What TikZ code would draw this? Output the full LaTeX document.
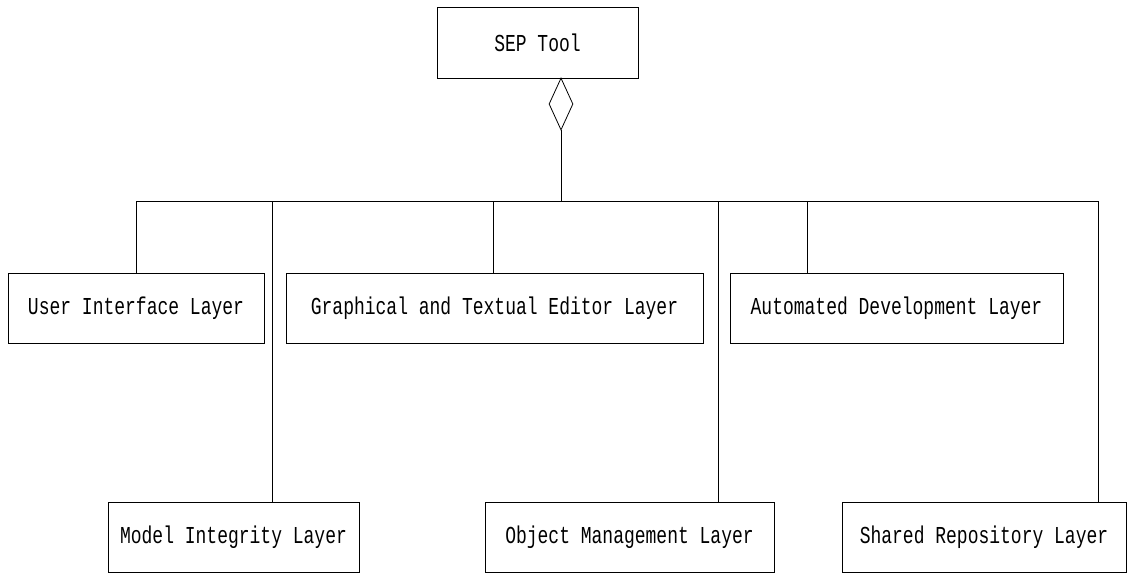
\documentclass[tikz,border=0pt]{standalone}
\usepackage{fontspec}
\setmonofont{Liberation Mono}
\usetikzlibrary{shapes.geometric}
\newcommand{\tallText}[1]{\scalebox{1}[1.35]{#1}}
\tikzset{
  layerbox/.style={draw, line width=0.8pt, rectangle, inner sep=0pt, font=\ttfamily\fontsize{18}{20}\selectfont},
  link/.style={line width=0.8pt},
  aggr/.style={draw, line width=0.8pt, shape=diamond, inner sep=0pt, minimum width=24pt, minimum height=52pt}
}
\begin{document}
\begin{tikzpicture}[x=1pt,y=-1pt]
\useasboundingbox (0,0) rectangle (1127,574);
\node[layerbox, minimum width=201pt, minimum height=71pt] (sep) at (537.5,42.5) {\tallText{SEP Tool}};
\node[aggr] (agg) at (561,104) {};
\coordinate (bus) at (561,201);
\node[layerbox, minimum width=256pt, minimum height=70pt] (ui) at (136,308) {\tallText{User Interface Layer}};
\node[layerbox, minimum width=417pt, minimum height=70pt] (gte) at (494.5,308) {\tallText{Graphical and Textual Editor Layer}};
\node[layerbox, minimum width=333pt, minimum height=70pt] (ad) at (896.5,308) {\tallText{Automated Development Layer}};
\node[layerbox, minimum width=251pt, minimum height=70pt] (mi) at (233.5,537) {\tallText{Model Integrity Layer}};
\node[layerbox, minimum width=289pt, minimum height=70pt] (om) at (629.5,537) {\tallText{Object Management Layer}};
\node[layerbox, minimum width=284pt, minimum height=70pt] (sr) at (984,537) {\tallText{Shared Repository Layer}};
\draw[link] (agg.south) -- (bus);
\draw[link] (bus) -| (ui.north);
\draw[link] (bus) -| ([xshift=-1.5pt]gte.north);
\draw[link] (bus) -| ([xshift=-89.5pt]ad.north);
\draw[link] (bus) -| ([xshift=38.5pt]mi.north);
\draw[link] (bus) -| ([xshift=88.5pt]om.north);
\draw[link] (bus) -| ([xshift=114pt]sr.north);
\end{tikzpicture}
\end{document}
